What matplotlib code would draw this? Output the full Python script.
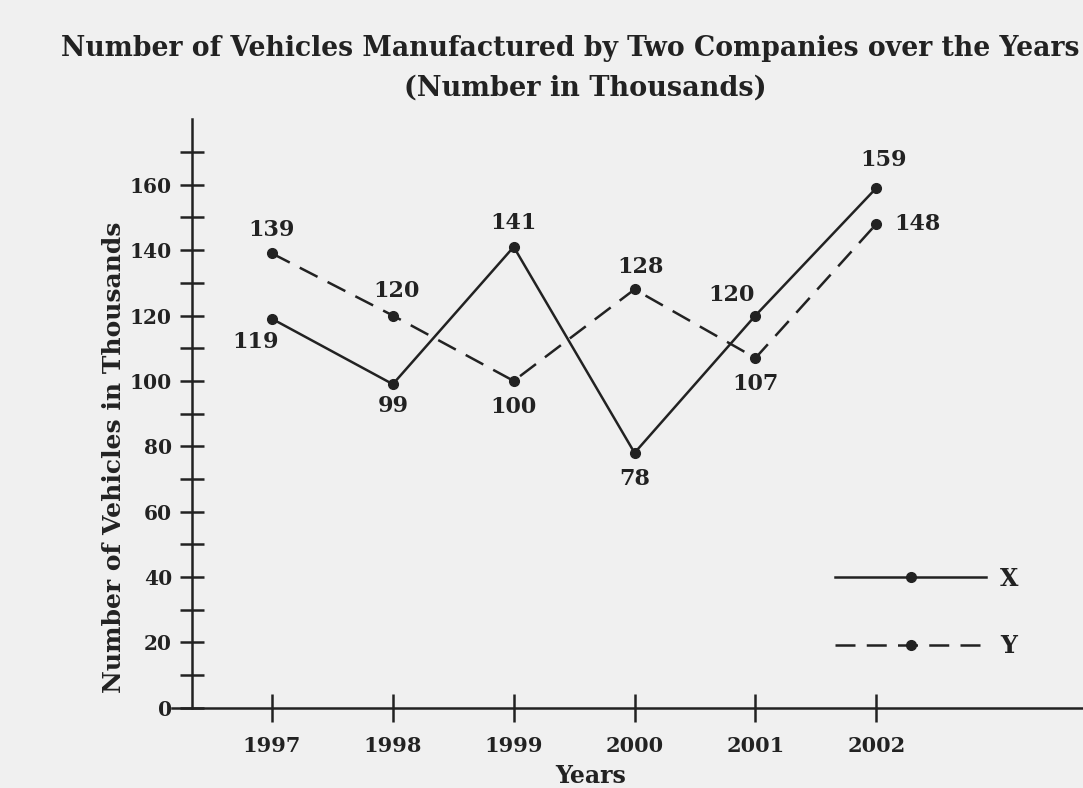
import numpy as np
import matplotlib
matplotlib.use("Agg")
from matplotlib import pyplot as plt

# values (thousands of vehicles)
years = [1997, 1998, 1999, 2000, 2001, 2002]
company_x = [119, 99, 141, 78, 120, 159]
company_y = [139, 120, 100, 128, 107, 148]

# label offsets in points (dx, dy) for each data label
x_offsets = [(-12, -17), (0, -16), (0, 17), (0, -19), (-17, 15), (5, 20)]
y_offsets = [(0, 17), (3, 18), (0, -19), (4, 16), (0, -19), (13, 0)]

INK = "#222222"
BG = "#f0f0f0"
FONT = "DejaVu Serif"

plt.rcParams['font.family'] = FONT
plt.rcParams['font.weight'] = 'bold'

fig = plt.figure(figsize=(10.83, 7.88), dpi=100, facecolor=BG)
ax = fig.add_axes([0, 0, 1, 1])
ax.set_facecolor(BG)

ax.set_xlim(1994.75, 2003.71)
ax.set_ylim(-24.5, 216.5)

# axis lines placed like the textbook figure
for s in ['top', 'right']:
	ax.spines[s].set_visible(False)
ax.spines['left'].set_position(('data', 1996.34))
ax.spines['bottom'].set_position(('data', 0))
ax.spines['left'].set_bounds(0, 180)
ax.spines['bottom'].set_bounds(1996.17, 2003.71)
for s in ['left', 'bottom']:
	ax.spines[s].set_color(INK)
	ax.spines[s].set_linewidth(1.8)

ax.set_yticks(np.arange(0, 161, 20))
ax.set_yticks(np.arange(10, 171, 20), minor=True)
ax.set_xticks(years)
ax.tick_params(axis='y', which='both', direction='inout', length=17, width=1.8,
	color=INK, labelsize=14.5, labelcolor=INK, pad=6)
ax.tick_params(axis='x', direction='inout', length=20, width=1.8,
	color=INK, labelsize=15, labelcolor=INK, pad=10)
for lbl in ax.get_xticklabels() + ax.get_yticklabels():
	lbl.set_fontweight('bold')

ax.plot(years, company_x, color=INK, lw=1.8, marker='o', ms=7, label="X", clip_on=False)
ax.plot(years, company_y, color=INK, lw=1.8, ls=(0, (8, 4.5)), marker='o', ms=7,
	label="Y", clip_on=False)

for yr, v, off in zip(years, company_x, x_offsets):
	ax.annotate(str(v), (yr, v), xytext=off, textcoords='offset points',
		ha='center', va='center', fontsize=16, fontweight='bold', color=INK)
for i, (yr, v, off) in enumerate(zip(years, company_y, y_offsets)):
	ha = 'left' if i == len(years) - 1 else 'center'
	ax.annotate(str(v), (yr, v), xytext=off, textcoords='offset points',
		ha=ha, va='center', fontsize=16, fontweight='bold', color=INK)

ax.set_xlabel("Years", fontsize=17, fontweight='bold', color=INK)
ax.xaxis.set_label_coords(0.545, 0.03)
ax.set_ylabel("Number of Vehicles in Thousands", fontsize=18, fontweight='bold', color=INK)
ax.yaxis.set_label_coords(0.116, 0.42)

leg = ax.legend(loc='upper left', bbox_to_anchor=(0.771, 0.281), frameon=False,
	fontsize=17, handlelength=6.4, handletextpad=0.6, labelspacing=1.85,
	borderpad=0, borderaxespad=0)
for t in leg.get_texts():
	t.set_color(INK)
	t.set_fontweight('bold')

fig.text(0.527, 0.939, "Number of Vehicles Manufactured by Two Companies over the Years",
	ha='center', va='center', fontsize=19.2, fontweight='bold', color=INK)
fig.text(0.54, 0.888, "(Number in Thousands)", ha='center', va='center',
	fontsize=19.5, fontweight='bold', color=INK)

fig.savefig("out.png", dpi=100, facecolor=BG)
